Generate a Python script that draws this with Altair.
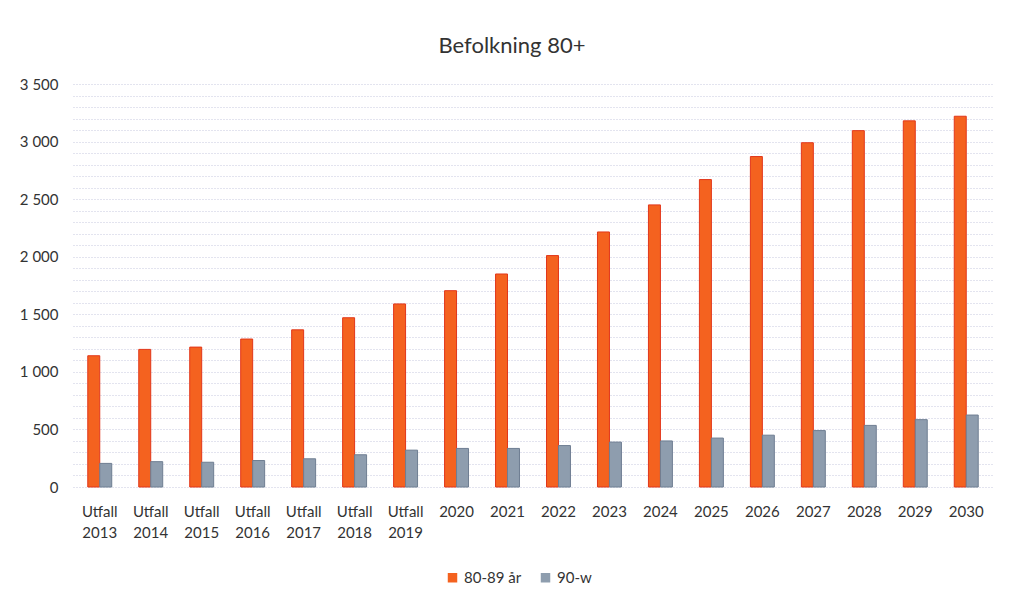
import altair as alt
import pandas as pd

categories = ["Utfall 2013", "Utfall 2014", "Utfall 2015", "Utfall 2016", "Utfall 2017",
              "Utfall 2018", "Utfall 2019", "2020", "2021", "2022", "2023", "2024",
              "2025", "2026", "2027", "2028", "2029", "2030"]
series = ["80-89 år", "90-w"]
v80_89 = [1140, 1195, 1215, 1285, 1365, 1470, 1590, 1705, 1850, 2010, 2215, 2450,
          2670, 2870, 2990, 3095, 3180, 3220]
v90w = [205, 220, 215, 230, 245, 280, 320, 335, 335, 360, 390, 400,
        425, 450, 490, 535, 585, 625]

rows = []
for c, a, b in zip(categories, v80_89, v90w):
    rows.append({"kat": c, "grupp": series[0], "antal": a})
    rows.append({"kat": c, "grupp": series[1], "antal": b})
df = pd.DataFrame(rows)

FONT = "Lato"
TXT = "#333333"

chart = alt.Chart(df).mark_bar(strokeWidth=1).encode(
    x=alt.X("kat:N", sort=categories, title=None,
            scale=alt.Scale(paddingInner=0.53, paddingOuter=0.29),
            axis=alt.Axis(labelAngle=0, labelExpr="split(datum.label, ' ')",
                          labelLineHeight=21, labelPadding=17, ticks=False,
                          domain=False, labelFontSize=15, labelColor=TXT,
                          labelFont=FONT)),
    xOffset=alt.XOffset("grupp:N", sort=series, scale=alt.Scale(paddingInner=0, paddingOuter=0)),
    y=alt.Y("antal:Q", title=None,
            scale=alt.Scale(domain=[0, 3500], nice=False),
            axis=alt.Axis(values=list(range(0, 3501, 100)),
                          labelExpr="datum.value % 500 == 0 ? replace(format(datum.value, ','), ',', ' ') : ''",
                          ticks=False, domain=False, labelPadding=15,
                          labelFontSize=15, labelColor=TXT, labelFont=FONT,
                          gridColor="#c6c9de", gridDash=[1, 2], gridWidth=1)),
    color=alt.Color("grupp:N", sort=series,
                    scale=alt.Scale(domain=series, range=["#F4621F", "#8E9DAE"]),
                    legend=alt.Legend(title=None, orient="none", direction="horizontal",
                                      legendX=372, legendY=486, symbolType="square",
                                      symbolSize=90, labelFontSize=15, labelColor=TXT,
                                      labelFont=FONT, columnPadding=16, symbolStrokeWidth=0)),
    stroke=alt.Stroke("grupp:N", sort=series,
                      scale=alt.Scale(domain=series, range=["#E2371A", "#6F7E92"]),
                      legend=None),
).properties(
    width=920,
    height=403,
    background="white",
    title=alt.TitleParams("Befolkning 80+", fontSize=22, font=FONT, color=TXT,
                          fontWeight="normal", anchor="middle", dx=-21, offset=19),
    padding={"left": 11, "top": 27, "right": 8, "bottom": 10},
).configure_view(stroke=None)

chart.save("out.html", embed_options={"renderer": "svg", "actions": False})
